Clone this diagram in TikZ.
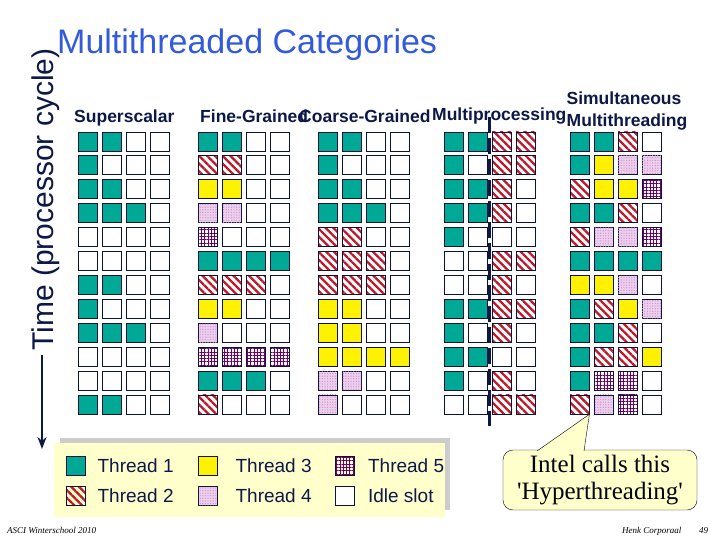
\documentclass[tikz,border=0pt]{standalone}
\usepackage{fontspec}
\setmainfont{Liberation Sans}
\newfontfamily\timesfont{Liberation Serif}
\usetikzlibrary{positioning,arrows.meta,patterns.meta}
\definecolor{navy}{RGB}{12,24,72}
\definecolor{titleblue}{RGB}{50,90,220}
\definecolor{tealA}{RGB}{0,168,150}
\definecolor{stripered}{RGB}{190,25,40}
\definecolor{pinkbg}{RGB}{238,208,238}
\definecolor{pinkdot}{RGB}{205,150,205}
\definecolor{gridpurple}{RGB}{110,0,110}
\definecolor{paleyellow}{RGB}{255,255,204}

\begin{document}
\begin{tikzpicture}[x=1pt, y=-1pt, >={Stealth[length=12pt,width=9pt]},
  every node/.style={font=\fontsize{17.5}{20}\selectfont\bfseries, text=navy, inner sep=0pt},
  slot/.style={draw=navy!80!black, line width=0.8pt, minimum size=19pt},
  slot0/.style={slot, fill=white},
  slot1/.style={slot, fill=tealA},
  slot2/.style={slot, pattern={Lines[angle=-45,distance=5.5pt,line width=2.3pt]}, pattern color=stripered},
  slot3/.style={slot, fill=yellow},
  slot4/.style={slot, fill=pinkbg, postaction={pattern={Dots[distance=2.6pt,radius=0.7pt]}, pattern color=pinkdot}},
  slot5/.style={slot, pattern={Hatch[angle=0,distance=3.3pt,line width=0.7pt]}, pattern color=gridpurple},
  lgtext/.style={font=\fontsize{19}{22}\selectfont}]
\useasboundingbox (0,0) rectangle (720,540);

\node[anchor=base west, font=\fontsize{34}{37}\selectfont, text=titleblue] (title) at (57,54) {Multithreaded Categories};

% time axis
\node[rotate=90, anchor=base west, font=\fontsize{30}{33}\selectfont] (time) at (53,351) {Time (processor cycle)};
\coordinate (tstart) at (42,355);
\coordinate (tend) at (42,449);
\draw[->, navy, line width=2pt] (tstart) -- (tend);

% column heads
\node[anchor=base west] (hss) at (74,123) {Superscalar};
\node[anchor=base west] (hfg) at (200,123) {Fine-Grained};
\node[anchor=base west] (hcg) at (299,123) {Coarse-Grained};
\node[anchor=base west] (hmp) at (432,121) {Multiprocessing};
\node[anchor=base] (hsim) at (624,105) {Simultaneous};
\node[anchor=base] (hsmt) at (627,127) {Multithreading};

% issue slots
\foreach \rw [count=\ri] in {{1,1,0,0},{1,0,0,0},{1,1,0,0},{1,1,1,0},{0,0,0,0},{0,0,0,0},{1,1,0,0},{1,0,0,0},{1,1,1,0},{0,0,0,0},{0,0,0,0},{1,1,0,0}}
  \foreach \sl [count=\ci] in \rw
    \node[slot\sl] (ss-\ri-\ci) at ({87.5+24*(\ci-1)},{141.5+23.9*(\ri-1)}) {};
\foreach \rw [count=\ri] in {{1,1,0,0},{2,2,0,0},{3,3,0,0},{4,4,0,0},{5,0,0,0},{1,1,1,1},{2,2,2,0},{3,3,0,0},{4,0,0,0},{5,5,5,5},{1,1,1,0},{2,0,0,0}}
  \foreach \sl [count=\ci] in \rw
    \node[slot\sl] (fg-\ri-\ci) at ({207.5+24*(\ci-1)},{141.5+23.9*(\ri-1)}) {};
\foreach \rw [count=\ri] in {{1,1,0,0},{1,0,0,0},{1,1,0,0},{1,1,1,0},{2,2,0,0},{2,2,2,0},{2,2,2,0},{3,3,0,0},{3,3,0,0},{3,3,3,3},{4,4,0,0},{4,0,0,0}}
  \foreach \sl [count=\ci] in \rw
    \node[slot\sl] (cg-\ri-\ci) at ({327.5+24*(\ci-1)},{141.5+23.9*(\ri-1)}) {};
\foreach \rw [count=\ri] in {{1,1,2,2},{1,0,2,2},{1,1,2,0},{1,1,2,0},{1,0,0,0},{0,0,2,2},{0,0,2,0},{1,1,2,2},{1,0,2,0},{1,1,0,0},{1,0,2,0},{0,0,2,2}}
  \foreach \sl [count=\ci] in \rw
    \node[slot\sl] (mp-\ri-\ci) at ({453.5+24*(\ci-1)},{141.5+23.9*(\ri-1)}) {};
\foreach \rw [count=\ri] in {{1,1,2,0},{1,3,4,4},{2,3,3,5},{1,1,2,0},{2,4,4,5},{1,1,1,1},{3,3,4,0},{1,2,3,4},{1,1,2,0},{1,2,2,3},{1,5,5,0},{2,4,5,0}}
  \foreach \sl [count=\ci] in \rw
    \node[slot\sl] (smt-\ri-\ci) at ({579.5+24*(\ci-1)},{141.5+23.9*(\ri-1)}) {};

% processor split
\coordinate (mtop) at (489,117);
\coordinate (mbot) at (489,426);
\draw[navy, line width=3pt, dash pattern=on 16pt off 5pt] (mtop) -- (mbot);

% legend
\fill[gray!40] (60,438) rectangle (450,510);
\fill[paleyellow] (54,443) rectangle (445,517);
\node[slot1] (lg1) at (75.5,466) {};
\node[slot2] (lg2) at (75.5,495.5) {};
\node[slot3] (lg3) at (207.5,466) {};
\node[slot4] (lg4) at (207.5,495.5) {};
\node[slot5] (lg5) at (345,466) {};
\node[slot0] (lg0) at (345,495.5) {};
\node[lgtext, right=12pt of lg1] (lt1) {Thread 1};
\node[lgtext, right=12pt of lg2] (lt2) {Thread 2};
\node[lgtext, right=18pt of lg3] (lt3) {Thread 3};
\node[lgtext, right=18pt of lg4] (lt4) {Thread 4};
\node[lgtext, right=13pt of lg5] (lt5) {Thread 5};
\node[lgtext, right=13pt of lg0] (lt0) {Idle slot};

% callout
\node[draw=black, fill=paleyellow, rounded corners=10pt, minimum width=194pt, minimum height=60pt,
  align=center, font=\timesfont\fontsize{25}{27}\selectfont, text=black!80!navy] (intel) at (600,480)
  {Intel calls this\\\textquotesingle Hyperthreading\textquotesingle};
\coordinate (pa) at (537,451);
\coordinate (pb) at (584,451);
\filldraw[draw=black, fill=paleyellow] (pa) -- (smt-12-1.south east) -- (pb);

% footer
\node[anchor=base west, font=\timesfont\itshape\fontsize{9}{10}\selectfont, text=black] (foot) at (7,533) {ASCI Winterschool 2010};
\node[anchor=base west, font=\timesfont\itshape\fontsize{9}{10}\selectfont, text=black] (author) at (622,533) {Henk Corporaal};
\node[anchor=base west, font=\timesfont\itshape\fontsize{9}{10}\selectfont, text=black] (page) at (699,533) {49};
\end{tikzpicture}
\end{document}
